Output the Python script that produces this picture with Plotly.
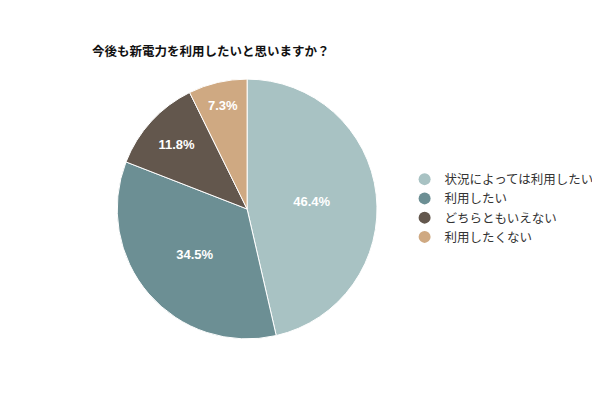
import plotly.graph_objects as go

# answers to: 今後も新電力を利用したいと思いますか？
labels = ["状況によっては利用したい", "利用したい", "どちらともいえない", "利用したくない"]
values = [46.4, 34.5, 11.8, 7.3]
colors = ["#a8c2c3", "#6c8f94", "#63574d", "#cfa982"]

fig = go.Figure()
fig.add_trace(
    go.Pie(
        labels=labels,
        values=values,
        sort=False,
        direction="clockwise",
        rotation=0,
        marker={"colors": colors, "line": {"color": "white", "width": 1}},
        texttemplate="<b>%{value:.1f}%</b>",
        textposition="inside",
        insidetextorientation="horizontal",
        textfont={"color": "white", "size": 13, "family": "Arial, Liberation Sans, sans-serif"},
        domain={"x": [0.182, 0.615], "y": [0.1725, 0.8225]},
        showlegend=False,
        hoverinfo="label+percent",
    )
)

# round legend markers like the original
for name, col in zip(labels, colors):
    fig.add_trace(
        go.Scatter(
            x=[None],
            y=[None],
            mode="markers",
            name=name,
            marker={"color": col, "size": 12, "symbol": "circle"},
        )
    )

fig.update_xaxes(visible=False)
fig.update_yaxes(visible=False)

fig.update_layout(
    width=600,
    height=400,
    margin={"l": 0, "r": 0, "t": 0, "b": 0},
    paper_bgcolor="white",
    plot_bgcolor="white",
    font={"family": "Noto Sans CJK JP, sans-serif", "color": "#333333"},
    title={
        "text": "<b>今後も新電力を利用したいと思いますか？</b>",
        "x": 84 / 600,
        "xanchor": "left",
        "y": 1 - 44 / 400,
        "yanchor": "middle",
        "font": {"size": 12.5, "color": "#111111"},
    },
    legend={
        "x": 0.661,
        "y": 0.50,
        "xanchor": "left",
        "yanchor": "middle",
        "font": {"size": 12.5, "color": "#333333"},
        "itemwidth": 30,
        "tracegroupgap": 0,
    },
    showlegend=True,
)

fig.write_html("out.html")
